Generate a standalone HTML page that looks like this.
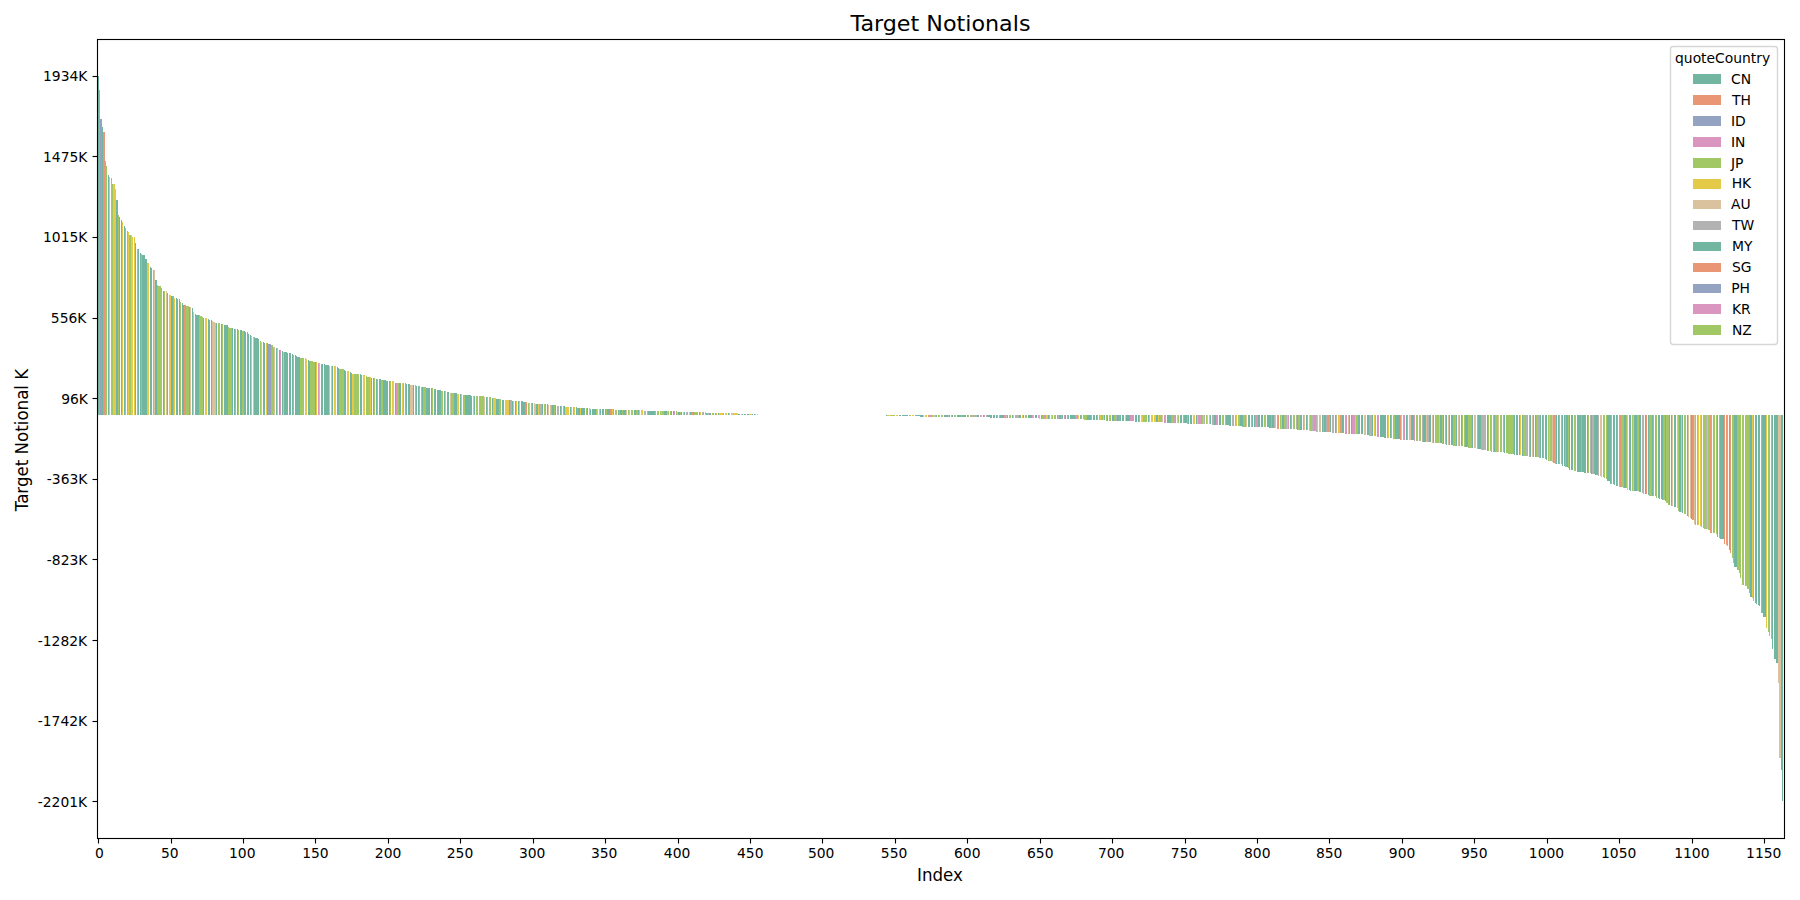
<!DOCTYPE html>
<html lang="en"><head><meta charset="utf-8"><title>Target Notionals</title>
<style>
html,body{margin:0;padding:0;background:#fff;}
body{width:1800px;height:900px;overflow:hidden;}
svg{display:block;}
text{font-family:"DejaVu Sans","Liberation Sans",sans-serif;fill:#000;}
</style></head><body>
<svg width="1800" height="900" viewBox="0 0 1800 900">
<rect width="1800" height="900" fill="#fff"/>
<g shape-rendering="crispEdges">
<path fill="#72b6a1" d="M98 76V415H99V76zM102 127V415H103V127zM108 175V415H109V175zM116 200V415H118V200zM119 217V415H120V217zM121 220V415H122V220zM124 226V415H125V226zM135 243V415H136V243zM138 249V415H139V249zM140 253V415H141V253zM142 255V415H144V255zM144 255V415H145V255zM145 259V415H147V259zM150 267V415H151V267zM151 268V415H152V268zM155 280V415H157V280zM163 291V415H164V291zM167 293V415H168V293zM171 296V415H173V296zM176 298V415H177V298zM177 299V415H178V299zM179 299V415H180V299zM182 303V415H183V303zM183 305V415H184V305zM189 307V415H190V307zM192 308V415H193V308zM196 315V415H197V315zM197 315V415H199V315zM203 318V415H204V318zM208 319V415H209V319zM209 320V415H210V320zM211 320V415H212V320zM216 323V415H217V323zM221 324V415H222V324zM224 325V415H225V325zM225 325V415H226V325zM226 325V415H228V325zM232 328V415H233V328zM234 329V415H235V329zM237 329V415H238V329zM240 330V415H241V330zM241 330V415H242V330zM244 331V415H245V331zM245 332V415H246V332zM248 334V415H249V334zM250 335V415H251V335zM254 337V415H255V337zM255 338V415H257V338zM257 338V415H258V338zM258 339V415H259V339zM263 342V415H264V342zM264 343V415H265V343zM267 343V415H268V343zM276 348V415H277V348zM279 350V415H280V350zM282 351V415H283V351zM284 352V415H286V352zM286 352V415H287V352zM287 353V415H288V353zM289 353V415H290V353zM290 353V415H291V353zM292 354V415H293V354zM295 355V415H296V355zM296 356V415H297V356zM297 357V415H299V357zM299 357V415H300V357zM308 360V415H309V360zM309 361V415H310V361zM315 362V415H316V362zM321 364V415H322V364zM322 364V415H323V364zM324 364V415H325V364zM325 365V415H326V365zM326 365V415H328V365zM328 365V415H329V365zM332 366V415H333V366zM337 367V415H338V367zM338 368V415H339V368zM344 370V415H345V370zM345 371V415H346V371zM350 372V415H351V372zM351 373V415H352V373zM360 374V415H361V374zM361 375V415H362V375zM373 378V415H374V378zM376 379V415H377V379zM379 379V415H380V379zM380 379V415H381V379zM383 380V415H384V380zM384 380V415H386V380zM386 381V415H387V381zM387 381V415H388V381zM389 381V415H390V381zM395 383V415H396V383zM399 383V415H400V383zM400 383V415H401V383zM406 384V415H407V384zM408 384V415H409V384zM409 384V415H410V384zM413 385V415H414V385zM416 386V415H417V386zM418 386V415H419V386zM422 387V415H423V387zM426 388V415H428V388zM428 388V415H429V388zM429 388V415H430V388zM431 388V415H432V388zM434 389V415H435V389zM435 389V415H436V389zM437 390V415H438V390zM438 390V415H439V390zM439 390V415H441V390zM444 391V415H445V391zM447 392V415H448V392zM448 392V415H449V392zM454 393V415H455V393zM455 393V415H457V393zM460 394V415H461V394zM465 395V415H467V395zM467 395V415H468V395zM468 395V415H470V395zM470 395V415H471V395zM471 396V415H472V396zM474 396V415H475V396zM486 397V415H487V397zM492 398V415H493V398zM496 399V415H497V399zM497 399V415H499V399zM502 400V415H503V400zM503 400V415H504V400zM509 400V415H510V400zM512 401V415H513V401zM515 401V415H516V401zM518 401V415H519V401zM521 401V415H522V401zM522 401V415H523V401zM523 402V415H525V402zM532 403V415H533V403zM536 404V415H538V404zM542 404V415H543V404zM547 404V415H548V404zM552 405V415H554V405zM555 405V415H556V405zM560 406V415H561V406zM564 406V415H565V406zM570 407V415H571V407zM576 407V415H577V407zM578 408V415H580V408zM581 408V415H583V408zM583 408V415H584V408zM584 408V415H585V408zM587 408V415H588V408zM590 409V415H591V409zM592 409V415H593V409zM593 409V415H594V409zM594 409V415H596V409zM600 409V415H601V409zM602 409V415H603V409zM603 409V415H604V409zM605 409V415H606V409zM607 409V415H609V409zM609 409V415H610V409zM618 410V415H619V410zM620 410V415H622V410zM623 410V415H625V410zM625 410V415H626V410zM634 410V415H635V410zM635 410V415H636V410zM638 410V415H639V410zM648 411V415H649V411zM649 411V415H651V411zM651 411V415H652V411zM652 411V415H654V411zM654 411V415H655V411zM664 411V415H665V411zM665 411V415H667V411zM671 411V415H672V411zM673 411V415H674V411zM678 412V415H680V412zM681 412V415H682V412zM684 412V415H685V412zM690 412V415H691V412zM693 412V415H694V412zM699 412V415H700V412zM706 413V415H707V413zM709 413V415H710V413zM710 413V415H711V413zM715 413V415H716V413zM718 413V415H719V413zM728 413V415H729V413zM738 414V415H739V414zM739 414V415H740V414zM742 414V415H743V414zM744 414V415H745V414zM745 414V415H746V414zM747 414V415H748V414zM748 414V415H749V414zM752 414V415H753V414zM754 414V415H755V414zM886 415V416H887V415zM899 415V416H900V415zM900 415V416H901V415zM902 415V416H903V415zM903 415V416H904V415zM904 415V416H906V415zM906 415V416H907V415zM907 415V416H908V415zM916 415V416H917V415zM917 415V416H919V415zM919 415V416H920V415zM920 415V417H922V415zM922 415V417H923V415zM936 415V417H937V415zM944 415V417H945V415zM945 415V417H946V415zM946 415V417H948V415zM949 415V417H950V415zM952 415V417H953V415zM957 415V417H958V415zM958 415V417H959V415zM959 415V417H961V415zM962 415V417H964V415zM964 415V417H965V415zM965 415V417H966V415zM967 415V417H968V415zM977 415V417H978V415zM978 415V417H979V415zM983 415V417H984V415zM987 415V417H988V415zM988 415V417H990V415zM990 415V418H991V415zM991 415V418H992V415zM993 415V418H994V415zM994 415V418H995V415zM996 415V418H997V415zM1000 415V418H1001V415zM1001 415V418H1003V415zM1003 415V418H1004V415zM1007 415V418H1008V415zM1012 415V418H1013V415zM1019 415V418H1020V415zM1020 415V418H1021V415zM1023 415V418H1024V415zM1028 415V418H1029V415zM1029 415V418H1030V415zM1030 415V418H1032V415zM1035 415V418H1036V415zM1036 415V418H1037V415zM1041 415V419H1042V415zM1048 415V419H1049V415zM1059 415V419H1061V415zM1062 415V419H1063V415zM1065 415V419H1066V415zM1068 415V419H1069V415zM1070 415V419H1071V415zM1071 415V419H1072V415zM1072 415V419H1074V415zM1074 415V419H1075V415zM1080 415V419H1081V415zM1087 415V420H1088V415zM1088 415V420H1090V415zM1090 415V420H1091V415zM1093 415V420H1094V415zM1094 415V420H1095V415zM1096 415V420H1097V415zM1104 415V420H1105V415zM1107 415V421H1108V415zM1112 415V421H1113V415zM1113 415V421H1114V415zM1117 415V421H1119V415zM1120 415V421H1121V415zM1122 415V421H1123V415zM1123 415V421H1124V415zM1126 415V421H1127V415zM1127 415V421H1129V415zM1129 415V421H1130V415zM1135 415V422H1136V415zM1136 415V422H1137V415zM1138 415V422H1139V415zM1148 415V422H1149V415zM1156 415V422H1158V415zM1167 415V423H1168V415zM1168 415V423H1169V415zM1169 415V423H1171V415zM1180 415V423H1181V415zM1181 415V423H1182V415zM1184 415V423H1185V415zM1185 415V423H1187V415zM1188 415V424H1189V415zM1190 415V424H1191V415zM1191 415V424H1192V415zM1196 415V424H1197V415zM1210 415V424H1211V415zM1214 415V425H1216V415zM1219 415V425H1220V415zM1220 415V425H1221V415zM1226 415V425H1227V415zM1227 415V425H1229V415zM1229 415V426H1230V415zM1230 415V426H1231V415zM1240 415V426H1242V415zM1242 415V427H1243V415zM1248 415V427H1249V415zM1249 415V427H1250V415zM1252 415V427H1253V415zM1254 415V427H1255V415zM1258 415V427H1259V415zM1259 415V427H1260V415zM1261 415V427H1262V415zM1262 415V427H1263V415zM1267 415V427H1268V415zM1268 415V427H1269V415zM1269 415V428H1271V415zM1272 415V428H1274V415zM1282 415V429H1284V415zM1290 415V429H1291V415zM1297 415V430H1298V415zM1300 415V430H1301V415zM1301 415V430H1302V415zM1306 415V430H1307V415zM1322 415V432H1323V415zM1324 415V432H1326V415zM1330 415V432H1331V415zM1335 415V433H1336V415zM1342 415V433H1343V415zM1343 415V433H1344V415zM1349 415V434H1350V415zM1351 415V434H1352V415zM1358 415V434H1359V415zM1359 415V434H1360V415zM1361 415V434H1362V415zM1362 415V434H1363V415zM1367 415V435H1368V415zM1368 415V435H1369V415zM1372 415V436H1373V415zM1380 415V437H1381V415zM1381 415V437H1382V415zM1382 415V437H1384V415zM1384 415V438H1385V415zM1385 415V438H1386V415zM1390 415V438H1391V415zM1395 415V439H1397V415zM1397 415V439H1398V415zM1398 415V439H1400V415zM1406 415V440H1407V415zM1411 415V440H1413V415zM1413 415V440H1414V415zM1423 415V442H1424V415zM1424 415V442H1426V415zM1429 415V442H1430V415zM1430 415V442H1431V415zM1433 415V443H1434V415zM1440 415V443H1442V415zM1443 415V444H1444V415zM1446 415V445H1447V415zM1449 415V445H1450V415zM1451 415V445H1452V415zM1452 415V445H1453V415zM1456 415V446H1457V415zM1461 415V446H1462V415zM1465 415V447H1466V415zM1466 415V447H1468V415zM1472 415V448H1473V415zM1478 415V449H1479V415zM1479 415V449H1481V415zM1487 415V451H1488V415zM1494 415V452H1495V415zM1504 415V453H1505V415zM1514 415V455H1515V415zM1516 415V455H1517V415zM1517 415V455H1518V415zM1519 415V455H1520V415zM1522 415V456H1523V415zM1530 415V457H1531V415zM1533 415V457H1534V415zM1535 415V457H1536V415zM1540 415V458H1541V415zM1542 415V458H1543V415zM1545 415V459H1546V415zM1546 415V460H1547V415zM1556 415V464H1557V415zM1558 415V464H1559V415zM1562 415V466H1563V415zM1564 415V466H1565V415zM1566 415V467H1568V415zM1569 415V470H1570V415zM1571 415V470H1572V415zM1572 415V470H1573V415zM1577 415V472H1578V415zM1578 415V472H1579V415zM1579 415V472H1581V415zM1582 415V472H1584V415zM1584 415V473H1585V415zM1585 415V473H1586V415zM1587 415V473H1588V415zM1591 415V474H1592V415zM1594 415V474H1595V415zM1595 415V475H1597V415zM1597 415V475H1598V415zM1607 415V481H1608V415zM1608 415V481H1610V415zM1610 415V484H1611V415zM1613 415V484H1614V415zM1614 415V485H1615V415zM1616 415V486H1617V415zM1624 415V488H1626V415zM1629 415V490H1630V415zM1630 415V491H1631V415zM1634 415V491H1636V415zM1636 415V491H1637V415zM1639 415V492H1640V415zM1640 415V492H1641V415zM1645 415V494H1646V415zM1648 415V495H1649V415zM1652 415V496H1653V415zM1658 415V498H1659V415zM1659 415V499H1660V415zM1661 415V499H1662V415zM1662 415V500H1663V415zM1665 415V501H1666V415zM1669 415V505H1670V415zM1671 415V506H1672V415zM1674 415V507H1675V415zM1675 415V507H1676V415zM1679 415V512H1681V415zM1682 415V513H1683V415zM1687 415V516H1688V415zM1691 415V519H1692V415zM1717 415V537H1718V415zM1720 415V539H1721V415zM1721 415V539H1723V415zM1723 415V539H1724V415zM1729 415V550H1730V415zM1734 415V567H1736V415zM1736 415V567H1737V415zM1750 415V597H1752V415zM1755 415V603H1756V415zM1756 415V604H1757V415zM1758 415V605H1759V415zM1759 415V606H1760V415zM1762 415V613H1763V415zM1763 415V617H1765V415zM1765 415V617H1766V415zM1772 415V649H1773V415zM1774 415V659H1775V415zM1775 415V659H1776V415zM1776 415V663H1778V415zM1781 415V770H1782V415zM1782 415V801H1783V415z"/>
<path fill="#e99675" d="M99 90V415H100V90zM103 132V415H105V132zM184 305V415H186V305zM405 383V415H406V383zM525 402V415H526V402zM526 402V415H527V402zM545 404V415H546V404zM577 408V415H578V408zM610 409V415H612V409zM613 409V415H614V409zM691 412V415H693V412zM713 413V415H714V413zM928 415V417H929V415zM1057 415V419H1058V415zM1119 415V421H1120V415zM1175 415V423H1176V415zM1245 415V427H1246V415zM1278 415V429H1279V415zM1327 415V432H1329V415zM1340 415V433H1342V415zM1377 415V437H1378V415zM1400 415V440H1401V415zM1507 415V453H1508V415zM1513 415V454H1514V415zM1543 415V458H1544V415zM1553 415V463H1555V415zM1617 415V486H1618V415zM1620 415V487H1621V415zM1646 415V494H1647V415zM1655 415V496H1656V415zM1692 415V520H1694V415zM1710 415V533H1711V415zM1724 415V544H1725V415zM1726 415V545H1727V415zM1730 415V553H1731V415zM1749 415V593H1750V415z"/>
<path fill="#95a3c3" d="M100 119V415H102V119zM195 314V415H196V314zM247 332V415H248V332zM268 344V415H270V344zM270 344V415H271V344zM371 378V415H372V378z"/>
<path fill="#db96c0" d="M105 161V415H106V161zM127 231V415H128V231zM280 350V415H281V350zM318 363V415H319V363zM367 377V415H368V377zM396 383V415H397V383zM674 411V415H675V411zM915 415V416H916V415zM929 415V417H930V415zM930 415V417H932V415zM955 415V417H956V415zM980 415V417H981V415zM984 415V417H985V415zM1004 415V418H1006V415zM1025 415V418H1026V415zM1032 415V418H1033V415zM1038 415V418H1039V415zM1043 415V419H1045V415zM1055 415V419H1056V415zM1064 415V419H1065V415zM1075 415V419H1077V415zM1091 415V420H1092V415zM1097 415V420H1098V415zM1130 415V421H1132V415zM1132 415V421H1133V415zM1139 415V422H1140V415zM1164 415V423H1165V415zM1174 415V423H1175V415zM1198 415V424H1200V415zM1200 415V424H1201V415zM1216 415V425H1217V415zM1256 415V427H1258V415zM1277 415V429H1278V415zM1288 415V429H1289V415zM1314 415V431H1316V415zM1346 415V434H1347V415zM1352 415V434H1353V415zM1353 415V434H1355V415zM1378 415V437H1379V415zM1404 415V440H1405V415zM1407 415V440H1408V415zM1414 415V441H1415V415zM1471 415V448H1472V415zM1581 415V472H1582V415zM1713 415V533H1714V415zM1739 415V573H1740V415z"/>
<path fill="#a2c865" d="M106 166V415H107V166zM111 178V415H112V178zM112 184V415H113V184zM118 215V415H119V215zM125 228V415H126V228zM129 235V415H131V235zM137 249V415H138V249zM141 254V415H142V254zM153 270V415H154V270zM157 285V415H158V285zM158 286V415H160V286zM160 286V415H161V286zM161 288V415H162V288zM164 291V415H165V291zM173 296V415H174V296zM180 302V415H181V302zM186 306V415H187V306zM187 306V415H189V306zM199 315V415H200V315zM200 316V415H202V316zM202 317V415H203V317zM218 323V415H219V323zM219 323V415H220V323zM222 324V415H223V324zM228 327V415H229V327zM229 328V415H231V328zM231 328V415H232V328zM235 329V415H236V329zM238 330V415H239V330zM242 331V415H244V331zM260 341V415H261V341zM271 345V415H273V345zM273 347V415H274V347zM293 355V415H294V355zM300 358V415H302V358zM302 358V415H303V358zM303 358V415H304V358zM310 361V415H312V361zM312 361V415H313V361zM313 362V415H315V362zM339 369V415H341V369zM341 369V415H342V369zM342 369V415H344V369zM354 374V415H355V374zM355 374V415H357V374zM357 374V415H358V374zM358 374V415H359V374zM366 376V415H367V376zM368 377V415H370V377zM374 378V415H375V378zM377 379V415H378V379zM381 380V415H383V380zM390 381V415H391V381zM397 383V415H399V383zM403 383V415H404V383zM415 385V415H416V385zM423 387V415H425V387zM425 387V415H426V387zM432 388V415H433V388zM441 391V415H442V391zM442 391V415H443V391zM451 393V415H452V393zM452 393V415H454V393zM463 395V415H464V395zM464 395V415H465V395zM476 396V415H477V396zM477 396V415H478V396zM480 396V415H481V396zM481 396V415H483V396zM483 396V415H484V396zM489 397V415H490V397zM490 397V415H491V397zM499 399V415H500V399zM500 399V415H501V399zM528 403V415H529V403zM541 404V415H542V404zM544 404V415H545V404zM551 405V415H552V405zM554 405V415H555V405zM563 406V415H564V406zM573 407V415H574V407zM586 408V415H587V408zM596 409V415H597V409zM606 409V415H607V409zM616 410V415H617V410zM619 410V415H620V410zM622 410V415H623V410zM628 410V415H629V410zM631 410V415H632V410zM632 410V415H633V410zM636 410V415H638V410zM655 411V415H656V411zM657 411V415H658V411zM658 411V415H659V411zM660 411V415H661V411zM662 411V415H664V411zM668 411V415H669V411zM670 411V415H671V411zM676 411V415H677V411zM680 412V415H681V412zM687 412V415H688V412zM694 412V415H696V412zM696 412V415H697V412zM697 412V415H698V412zM703 412V415H704V412zM712 413V415H713V413zM723 413V415H724V413zM891 415V416H893V415zM893 415V416H894V415zM894 415V416H895V415zM909 415V416H910V415zM910 415V416H911V415zM932 415V417H933V415zM938 415V417H939V415zM941 415V417H942V415zM942 415V417H943V415zM951 415V417H952V415zM954 415V417H955V415zM961 415V417H962V415zM968 415V417H969V415zM971 415V417H972V415zM972 415V417H974V415zM997 415V418H998V415zM999 415V418H1000V415zM1010 415V418H1011V415zM1026 415V418H1027V415zM1042 415V419H1043V415zM1045 415V419H1046V415zM1049 415V419H1050V415zM1052 415V419H1053V415zM1054 415V419H1055V415zM1061 415V419H1062V415zM1067 415V419H1068V415zM1077 415V419H1078V415zM1083 415V419H1084V415zM1084 415V420H1085V415zM1085 415V420H1087V415zM1099 415V420H1100V415zM1101 415V420H1103V415zM1106 415V421H1107V415zM1109 415V421H1110V415zM1110 415V421H1111V415zM1114 415V421H1116V415zM1133 415V421H1134V415zM1143 415V422H1145V415zM1146 415V422H1147V415zM1159 415V422H1161V415zM1161 415V422H1162V415zM1165 415V423H1166V415zM1171 415V423H1172V415zM1172 415V423H1174V415zM1178 415V423H1179V415zM1183 415V423H1184V415zM1201 415V424H1203V415zM1206 415V424H1207V415zM1213 415V425H1214V415zM1217 415V425H1218V415zM1222 415V425H1223V415zM1223 415V425H1224V415zM1233 415V426H1234V415zM1235 415V426H1236V415zM1238 415V426H1239V415zM1239 415V426H1240V415zM1243 415V427H1245V415zM1255 415V427H1256V415zM1264 415V427H1265V415zM1265 415V427H1266V415zM1271 415V428H1272V415zM1280 415V429H1281V415zM1284 415V429H1285V415zM1291 415V429H1292V415zM1293 415V429H1294V415zM1294 415V429H1295V415zM1298 415V430H1300V415zM1303 415V430H1304V415zM1310 415V431H1311V415zM1313 415V431H1314V415zM1323 415V432H1324V415zM1329 415V432H1330V415zM1333 415V433H1334V415zM1345 415V434H1346V415zM1356 415V434H1358V415zM1371 415V436H1372V415zM1375 415V436H1376V415zM1387 415V438H1388V415zM1391 415V438H1392V415zM1393 415V439H1394V415zM1394 415V439H1395V415zM1403 415V440H1404V415zM1416 415V441H1417V415zM1417 415V441H1418V415zM1419 415V441H1420V415zM1420 415V441H1421V415zM1435 415V443H1436V415zM1436 415V443H1437V415zM1437 415V443H1439V415zM1442 415V444H1443V415zM1453 415V446H1455V415zM1462 415V446H1463V415zM1464 415V447H1465V415zM1468 415V448H1469V415zM1469 415V448H1471V415zM1488 415V451H1489V415zM1490 415V451H1491V415zM1491 415V452H1492V415zM1495 415V452H1497V415zM1497 415V452H1498V415zM1500 415V452H1501V415zM1501 415V452H1502V415zM1503 415V452H1504V415zM1506 415V453H1507V415zM1508 415V454H1510V415zM1510 415V454H1511V415zM1511 415V454H1513V415zM1523 415V456H1524V415zM1524 415V456H1526V415zM1527 415V456H1528V415zM1529 415V457H1530V415zM1536 415V457H1537V415zM1539 415V458H1540V415zM1548 415V461H1549V415zM1550 415V461H1552V415zM1555 415V464H1556V415zM1559 415V464H1560V415zM1565 415V467H1566V415zM1568 415V468H1569V415zM1574 415V471H1575V415zM1575 415V471H1576V415zM1588 415V473H1589V415zM1603 415V477H1604V415zM1604 415V478H1605V415zM1606 415V479H1607V415zM1611 415V484H1612V415zM1619 415V487H1620V415zM1621 415V487H1623V415zM1623 415V488H1624V415zM1626 415V488H1627V415zM1632 415V491H1633V415zM1637 415V491H1639V415zM1649 415V496H1650V415zM1650 415V496H1652V415zM1653 415V496H1654V415zM1656 415V498H1657V415zM1663 415V500H1665V415zM1666 415V503H1668V415zM1668 415V505H1669V415zM1678 415V511H1679V415zM1684 415V514H1685V415zM1685 415V514H1686V415zM1695 415V525H1696V415zM1697 415V525H1698V415zM1703 415V528H1704V415zM1704 415V529H1705V415zM1708 415V530H1710V415zM1711 415V533H1712V415zM1714 415V533H1715V415zM1716 415V534H1717V415zM1719 415V538H1720V415zM1727 415V546H1728V415zM1732 415V558H1733V415zM1733 415V563H1734V415zM1737 415V570H1739V415zM1740 415V578H1741V415zM1742 415V585H1743V415zM1743 415V585H1744V415zM1745 415V586H1746V415zM1746 415V586H1747V415zM1747 415V589H1749V415zM1753 415V601H1754V415zM1761 415V613H1762V415zM1768 415V632H1769V415zM1769 415V636H1770V415zM1771 415V639H1772V415z"/>
<path fill="#e5c949" d="M109 177V415H110V177zM113 184V415H115V184zM115 189V415H116V189zM122 222V415H123V222zM128 232V415H129V232zM132 237V415H133V237zM134 237V415H135V237zM147 263V415H148V263zM148 263V415H149V263zM169 295V415H170V295zM170 295V415H171V295zM174 298V415H175V298zM193 312V415H194V312zM205 318V415H206V318zM206 318V415H207V318zM215 323V415H216V323zM251 336V415H252V336zM266 343V415H267V343zM277 348V415H278V348zM283 352V415H284V352zM305 358V415H306V358zM306 359V415H307V359zM316 362V415H317V362zM319 363V415H320V363zM329 366V415H330V366zM331 366V415H332V366zM334 366V415H335V366zM335 366V415H336V366zM347 371V415H348V371zM348 371V415H349V371zM352 374V415H354V374zM363 375V415H364V375zM364 375V415H365V375zM370 377V415H371V377zM392 381V415H393V381zM402 383V415H403V383zM445 391V415H446V391zM457 394V415H458V394zM458 394V415H459V394zM461 394V415H462V394zM473 396V415H474V396zM493 398V415H494V398zM494 398V415H496V398zM505 400V415H506V400zM506 400V415H507V400zM507 400V415H509V400zM513 401V415H514V401zM516 401V415H517V401zM519 401V415H520V401zM529 403V415H530V403zM538 404V415H539V404zM565 407V415H567V407zM567 407V415H568V407zM568 407V415H569V407zM571 407V415H572V407zM574 407V415H575V407zM580 408V415H581V408zM589 408V415H590V408zM597 409V415H598V409zM599 409V415H600V409zM612 409V415H613V409zM629 410V415H630V410zM639 410V415H640V410zM641 410V415H642V410zM642 410V415H643V410zM661 411V415H662V411zM667 411V415H668V411zM677 412V415H678V412zM683 412V415H684V412zM700 412V415H701V412zM705 412V415H706V412zM716 413V415H717V413zM720 413V415H722V413zM722 413V415H723V413zM725 413V415H726V413zM726 413V415H727V413zM729 413V415H730V413zM733 413V415H735V413zM735 413V415H736V413zM736 413V415H738V413zM741 414V415H742V414zM749 414V415H751V414zM751 414V415H752V414zM755 414V415H756V414zM757 414V415H758V414zM887 415V416H888V415zM888 415V416H890V415zM890 415V416H891V415zM896 415V416H897V415zM897 415V416H898V415zM912 415V416H913V415zM913 415V416H914V415zM925 415V417H926V415zM926 415V417H927V415zM981 415V417H982V415zM1022 415V418H1023V415zM1039 415V419H1040V415zM1046 415V419H1048V415zM1051 415V419H1052V415zM1078 415V419H1079V415zM1100 415V420H1101V415zM1142 415V422H1143V415zM1149 415V422H1150V415zM1151 415V422H1152V415zM1152 415V422H1153V415zM1154 415V422H1155V415zM1155 415V422H1156V415zM1158 415V422H1159V415zM1193 415V424H1194V415zM1194 415V424H1195V415zM1203 415V424H1204V415zM1236 415V426H1237V415zM1281 415V429H1282V415zM1287 415V429H1288V415zM1319 415V432H1320V415zM1338 415V433H1339V415zM1365 415V435H1366V415zM1374 415V436H1375V415zM1388 415V438H1389V415zM1520 415V455H1521V415zM1698 415V525H1699V415zM1700 415V526H1701V415zM1752 415V598H1753V415zM1766 415V628H1767V415z"/>
<path fill="#dbc29e" d="M131 235V415H132V235zM154 270V415H155V270zM166 291V415H167V291zM190 307V415H191V307zM212 321V415H213V321zM213 322V415H215V322zM253 337V415H254V337zM261 342V415H262V342zM274 347V415H275V347zM393 381V415H394V381zM410 385V415H412V385zM412 385V415H413V385zM450 393V415H451V393zM484 397V415H485V397zM534 403V415H535V403zM535 404V415H536V404zM548 405V415H549V405zM550 405V415H551V405zM626 410V415H627V410zM689 412V415H690V412zM719 413V415H720V413zM731 413V415H732V413zM732 413V415H733V413zM923 415V417H924V415zM933 415V417H935V415zM1006 415V418H1007V415zM1013 415V418H1014V415zM1033 415V418H1034V415zM1103 415V420H1104V415zM1125 415V421H1126V415zM1141 415V422H1142V415zM1162 415V422H1163V415zM1177 415V423H1178V415zM1197 415V424H1198V415zM1207 415V424H1208V415zM1209 415V424H1210V415zM1246 415V427H1247V415zM1275 415V428H1276V415zM1304 415V430H1305V415zM1309 415V431H1310V415zM1317 415V432H1318V415zM1320 415V432H1321V415zM1339 415V433H1340V415zM1348 415V434H1349V415zM1355 415V434H1356V415zM1364 415V435H1365V415zM1401 415V440H1402V415zM1409 415V440H1410V415zM1410 415V440H1411V415zM1426 415V442H1427V415zM1432 415V443H1433V415zM1439 415V443H1440V415zM1448 415V445H1449V415zM1458 415V446H1459V415zM1474 415V448H1475V415zM1475 415V448H1476V415zM1498 415V452H1499V415zM1532 415V457H1533V415zM1549 415V461H1550V415zM1552 415V462H1553V415zM1600 415V476H1601V415zM1601 415V477H1602V415zM1627 415V490H1628V415zM1633 415V491H1634V415zM1672 415V506H1673V415zM1677 415V508H1678V415zM1681 415V512H1682V415zM1688 415V517H1689V415zM1690 415V518H1691V415zM1694 415V524H1695V415zM1707 415V529H1708V415zM1778 415V683H1779V415zM1779 415V758H1781V415z"/>
<path fill="#b3b3b3" d="M419 386V415H420V386zM421 387V415H422V387zM479 396V415H480V396zM487 397V415H488V397zM510 400V415H512V400zM531 403V415H532V403zM539 404V415H541V404zM557 406V415H558V406zM558 406V415H559V406zM561 406V415H562V406zM615 410V415H616V410zM644 411V415H645V411zM645 411V415H646V411zM647 411V415H648V411zM686 412V415H687V412zM702 412V415H703V412zM707 413V415H709V413zM935 415V417H936V415zM939 415V417H940V415zM948 415V417H949V415zM970 415V417H971V415zM974 415V417H975V415zM975 415V417H977V415zM986 415V417H987V415zM1009 415V418H1010V415zM1015 415V418H1016V415zM1016 415V418H1017V415zM1017 415V418H1019V415zM1058 415V419H1059V415zM1081 415V419H1082V415zM1116 415V421H1117V415zM1145 415V422H1146V415zM1187 415V424H1188V415zM1204 415V424H1205V415zM1212 415V425H1213V415zM1225 415V425H1226V415zM1232 415V426H1233V415zM1251 415V427H1252V415zM1274 415V428H1275V415zM1285 415V429H1287V415zM1296 415V429H1297V415zM1307 415V430H1308V415zM1311 415V431H1313V415zM1316 415V432H1317V415zM1326 415V432H1327V415zM1332 415V433H1333V415zM1336 415V433H1337V415zM1369 415V436H1371V415zM1422 415V442H1423V415zM1427 415V442H1429V415zM1445 415V444H1446V415zM1455 415V446H1456V415zM1459 415V446H1460V415zM1477 415V449H1478V415zM1481 415V450H1482V415zM1482 415V450H1484V415zM1484 415V450H1485V415zM1485 415V450H1486V415zM1493 415V452H1494V415zM1526 415V456H1527V415zM1537 415V457H1539V415zM1561 415V464H1562V415zM1590 415V473H1591V415zM1592 415V474H1594V415zM1598 415V476H1599V415zM1642 415V493H1643V415zM1643 415V494H1644V415zM1701 415V527H1702V415zM1705 415V529H1707V415z"/>
</g>
<g shape-rendering="crispEdges">
<rect x="96" y="39" width="3" height="800" fill="#000" fill-opacity="0.055"/><rect x="97" y="39" width="1" height="800" fill="#000"/>
<rect x="1783" y="39" width="3" height="800" fill="#000" fill-opacity="0.055"/><rect x="1784" y="39" width="1" height="800" fill="#000"/>
<rect x="97" y="38" width="1688" height="3" fill="#000" fill-opacity="0.055"/><rect x="97" y="39" width="1688" height="1" fill="#000"/>
<rect x="97" y="837" width="1688" height="3" fill="#000" fill-opacity="0.055"/><rect x="97" y="838" width="1688" height="1" fill="#000"/>
<rect x="97" y="839" width="3" height="4" fill="#000" fill-opacity="0.055"/><rect x="98" y="839" width="1" height="4" fill="#000"/><rect x="98" y="843" width="1" height="1" fill="#000" fill-opacity="0.5"/>
<rect x="170" y="839" width="3" height="4" fill="#000" fill-opacity="0.055"/><rect x="171" y="839" width="1" height="4" fill="#000"/><rect x="171" y="843" width="1" height="1" fill="#000" fill-opacity="0.5"/>
<rect x="242" y="839" width="3" height="4" fill="#000" fill-opacity="0.055"/><rect x="243" y="839" width="1" height="4" fill="#000"/><rect x="243" y="843" width="1" height="1" fill="#000" fill-opacity="0.5"/>
<rect x="314" y="839" width="3" height="4" fill="#000" fill-opacity="0.055"/><rect x="315" y="839" width="1" height="4" fill="#000"/><rect x="315" y="843" width="1" height="1" fill="#000" fill-opacity="0.5"/>
<rect x="387" y="839" width="3" height="4" fill="#000" fill-opacity="0.055"/><rect x="388" y="839" width="1" height="4" fill="#000"/><rect x="388" y="843" width="1" height="1" fill="#000" fill-opacity="0.5"/>
<rect x="459" y="839" width="3" height="4" fill="#000" fill-opacity="0.055"/><rect x="460" y="839" width="1" height="4" fill="#000"/><rect x="460" y="843" width="1" height="1" fill="#000" fill-opacity="0.5"/>
<rect x="532" y="839" width="3" height="4" fill="#000" fill-opacity="0.055"/><rect x="533" y="839" width="1" height="4" fill="#000"/><rect x="533" y="843" width="1" height="1" fill="#000" fill-opacity="0.5"/>
<rect x="604" y="839" width="3" height="4" fill="#000" fill-opacity="0.055"/><rect x="605" y="839" width="1" height="4" fill="#000"/><rect x="605" y="843" width="1" height="1" fill="#000" fill-opacity="0.5"/>
<rect x="677" y="839" width="3" height="4" fill="#000" fill-opacity="0.055"/><rect x="678" y="839" width="1" height="4" fill="#000"/><rect x="678" y="843" width="1" height="1" fill="#000" fill-opacity="0.5"/>
<rect x="749" y="839" width="3" height="4" fill="#000" fill-opacity="0.055"/><rect x="750" y="839" width="1" height="4" fill="#000"/><rect x="750" y="843" width="1" height="1" fill="#000" fill-opacity="0.5"/>
<rect x="821" y="839" width="3" height="4" fill="#000" fill-opacity="0.055"/><rect x="822" y="839" width="1" height="4" fill="#000"/><rect x="822" y="843" width="1" height="1" fill="#000" fill-opacity="0.5"/>
<rect x="894" y="839" width="3" height="4" fill="#000" fill-opacity="0.055"/><rect x="895" y="839" width="1" height="4" fill="#000"/><rect x="895" y="843" width="1" height="1" fill="#000" fill-opacity="0.5"/>
<rect x="966" y="839" width="3" height="4" fill="#000" fill-opacity="0.055"/><rect x="967" y="839" width="1" height="4" fill="#000"/><rect x="967" y="843" width="1" height="1" fill="#000" fill-opacity="0.5"/>
<rect x="1039" y="839" width="3" height="4" fill="#000" fill-opacity="0.055"/><rect x="1040" y="839" width="1" height="4" fill="#000"/><rect x="1040" y="843" width="1" height="1" fill="#000" fill-opacity="0.5"/>
<rect x="1111" y="839" width="3" height="4" fill="#000" fill-opacity="0.055"/><rect x="1112" y="839" width="1" height="4" fill="#000"/><rect x="1112" y="843" width="1" height="1" fill="#000" fill-opacity="0.5"/>
<rect x="1184" y="839" width="3" height="4" fill="#000" fill-opacity="0.055"/><rect x="1185" y="839" width="1" height="4" fill="#000"/><rect x="1185" y="843" width="1" height="1" fill="#000" fill-opacity="0.5"/>
<rect x="1256" y="839" width="3" height="4" fill="#000" fill-opacity="0.055"/><rect x="1257" y="839" width="1" height="4" fill="#000"/><rect x="1257" y="843" width="1" height="1" fill="#000" fill-opacity="0.5"/>
<rect x="1328" y="839" width="3" height="4" fill="#000" fill-opacity="0.055"/><rect x="1329" y="839" width="1" height="4" fill="#000"/><rect x="1329" y="843" width="1" height="1" fill="#000" fill-opacity="0.5"/>
<rect x="1401" y="839" width="3" height="4" fill="#000" fill-opacity="0.055"/><rect x="1402" y="839" width="1" height="4" fill="#000"/><rect x="1402" y="843" width="1" height="1" fill="#000" fill-opacity="0.5"/>
<rect x="1473" y="839" width="3" height="4" fill="#000" fill-opacity="0.055"/><rect x="1474" y="839" width="1" height="4" fill="#000"/><rect x="1474" y="843" width="1" height="1" fill="#000" fill-opacity="0.5"/>
<rect x="1546" y="839" width="3" height="4" fill="#000" fill-opacity="0.055"/><rect x="1547" y="839" width="1" height="4" fill="#000"/><rect x="1547" y="843" width="1" height="1" fill="#000" fill-opacity="0.5"/>
<rect x="1618" y="839" width="3" height="4" fill="#000" fill-opacity="0.055"/><rect x="1619" y="839" width="1" height="4" fill="#000"/><rect x="1619" y="843" width="1" height="1" fill="#000" fill-opacity="0.5"/>
<rect x="1691" y="839" width="3" height="4" fill="#000" fill-opacity="0.055"/><rect x="1692" y="839" width="1" height="4" fill="#000"/><rect x="1692" y="843" width="1" height="1" fill="#000" fill-opacity="0.5"/>
<rect x="1763" y="839" width="3" height="4" fill="#000" fill-opacity="0.055"/><rect x="1764" y="839" width="1" height="4" fill="#000"/><rect x="1764" y="843" width="1" height="1" fill="#000" fill-opacity="0.5"/>
<rect x="93" y="75" width="4" height="3" fill="#000" fill-opacity="0.055"/><rect x="93" y="76" width="4" height="1" fill="#000"/><rect x="92" y="76" width="1" height="1" fill="#000" fill-opacity="0.5"/>
<rect x="93" y="155" width="4" height="3" fill="#000" fill-opacity="0.055"/><rect x="93" y="156" width="4" height="1" fill="#000"/><rect x="92" y="156" width="1" height="1" fill="#000" fill-opacity="0.5"/>
<rect x="93" y="236" width="4" height="3" fill="#000" fill-opacity="0.055"/><rect x="93" y="237" width="4" height="1" fill="#000"/><rect x="92" y="237" width="1" height="1" fill="#000" fill-opacity="0.5"/>
<rect x="93" y="317" width="4" height="3" fill="#000" fill-opacity="0.055"/><rect x="93" y="318" width="4" height="1" fill="#000"/><rect x="92" y="318" width="1" height="1" fill="#000" fill-opacity="0.5"/>
<rect x="93" y="397" width="4" height="3" fill="#000" fill-opacity="0.055"/><rect x="93" y="398" width="4" height="1" fill="#000"/><rect x="92" y="398" width="1" height="1" fill="#000" fill-opacity="0.5"/>
<rect x="93" y="478" width="4" height="3" fill="#000" fill-opacity="0.055"/><rect x="93" y="479" width="4" height="1" fill="#000"/><rect x="92" y="479" width="1" height="1" fill="#000" fill-opacity="0.5"/>
<rect x="93" y="558" width="4" height="3" fill="#000" fill-opacity="0.055"/><rect x="93" y="559" width="4" height="1" fill="#000"/><rect x="92" y="559" width="1" height="1" fill="#000" fill-opacity="0.5"/>
<rect x="93" y="639" width="4" height="3" fill="#000" fill-opacity="0.055"/><rect x="93" y="640" width="4" height="1" fill="#000"/><rect x="92" y="640" width="1" height="1" fill="#000" fill-opacity="0.5"/>
<rect x="93" y="720" width="4" height="3" fill="#000" fill-opacity="0.055"/><rect x="93" y="721" width="4" height="1" fill="#000"/><rect x="92" y="721" width="1" height="1" fill="#000" fill-opacity="0.5"/>
<rect x="93" y="800" width="4" height="3" fill="#000" fill-opacity="0.055"/><rect x="93" y="801" width="4" height="1" fill="#000"/><rect x="92" y="801" width="1" height="1" fill="#000" fill-opacity="0.5"/>
</g>
<g shape-rendering="crispEdges">
<rect x="1670.5" y="46.5" width="107" height="298" rx="2.78" ry="2.78" fill="#fff" fill-opacity="0.8" stroke="#ccc" stroke-opacity="0.8" stroke-width="1.389" shape-rendering="geometricPrecision"/>
<rect x="1693" y="74" width="28" height="10" fill="#72b6a1"/>
<rect x="1693" y="95" width="28" height="10" fill="#e99675"/>
<rect x="1693" y="116" width="28" height="10" fill="#95a3c3"/>
<rect x="1693" y="137" width="28" height="10" fill="#db96c0"/>
<rect x="1693" y="158" width="28" height="10" fill="#a2c865"/>
<rect x="1693" y="179" width="28" height="10" fill="#e5c949"/>
<rect x="1693" y="200" width="28" height="9" fill="#dbc29e"/>
<rect x="1693" y="221" width="28" height="9" fill="#b3b3b3"/>
<rect x="1693" y="242" width="28" height="9" fill="#72b6a1"/>
<rect x="1693" y="263" width="28" height="9" fill="#e99675"/>
<rect x="1693" y="284" width="28" height="9" fill="#95a3c3"/>
<rect x="1693" y="304" width="28" height="10" fill="#db96c0"/>
<rect x="1693" y="325" width="28" height="10" fill="#a2c865"/>
</g>
<g>
<text transform="translate(99.38,858.20)" text-anchor="middle" font-size="13.889">0</text>
<text transform="translate(169.81,858.20)" text-anchor="middle" font-size="13.889">50</text>
<text transform="translate(242.24,858.20)" text-anchor="middle" font-size="13.889">100</text>
<text transform="translate(315.41,858.20)" text-anchor="middle" font-size="13.889">150</text>
<text transform="translate(388.09,858.20)" text-anchor="middle" font-size="13.889">200</text>
<text transform="translate(460.02,858.20)" text-anchor="middle" font-size="13.889">250</text>
<text transform="translate(532.20,858.20)" text-anchor="middle" font-size="13.889">300</text>
<text transform="translate(604.13,858.20)" text-anchor="middle" font-size="13.889">350</text>
<text transform="translate(677.06,858.20)" text-anchor="middle" font-size="13.889">400</text>
<text transform="translate(750.24,858.20)" text-anchor="middle" font-size="13.889">450</text>
<text transform="translate(821.17,858.20)" text-anchor="middle" font-size="13.889">500</text>
<text transform="translate(894.10,858.20)" text-anchor="middle" font-size="13.889">550</text>
<text transform="translate(967.28,858.20)" text-anchor="middle" font-size="13.889">600</text>
<text transform="translate(1040.21,858.20)" text-anchor="middle" font-size="13.889">650</text>
<text transform="translate(1111.14,858.20)" text-anchor="middle" font-size="13.889">700</text>
<text transform="translate(1184.06,858.20)" text-anchor="middle" font-size="13.889">750</text>
<text transform="translate(1257.24,858.20)" text-anchor="middle" font-size="13.889">800</text>
<text transform="translate(1329.17,858.20)" text-anchor="middle" font-size="13.889">850</text>
<text transform="translate(1402.10,858.20)" text-anchor="middle" font-size="13.889">900</text>
<text transform="translate(1474.28,858.20)" text-anchor="middle" font-size="13.889">950</text>
<text transform="translate(1546.46,858.20)" text-anchor="middle" font-size="13.889">1000</text>
<text transform="translate(1618.64,858.20)" text-anchor="middle" font-size="13.889">1050</text>
<text transform="translate(1691.82,858.20)" text-anchor="middle" font-size="13.889">1100</text>
<text transform="translate(1763.75,858.20)" text-anchor="middle" font-size="13.889">1150</text>
<text transform="translate(87.43,80.72)" text-anchor="end" font-size="13.889">1934K</text>
<text transform="translate(87.43,162.37)" text-anchor="end" font-size="13.889">1475K</text>
<text transform="translate(87.43,242.01)" text-anchor="end" font-size="13.889">1015K</text>
<text transform="translate(86.43,322.66)" text-anchor="end" font-size="13.889">556K</text>
<text transform="translate(87.93,404.31)" text-anchor="end" font-size="13.889">96K</text>
<text transform="translate(87.43,483.95)" text-anchor="end" font-size="13.889">-363K</text>
<text transform="translate(87.43,564.60)" text-anchor="end" font-size="13.889">-823K</text>
<text transform="translate(87.18,646.24)" text-anchor="end" font-size="13.889">-1282K</text>
<text transform="translate(87.18,725.89)" text-anchor="end" font-size="13.889">-1742K</text>
<text transform="translate(87.18,806.53)" text-anchor="end" font-size="13.889">-2201K</text>
<text transform="translate(940.48,31.20) scale(1.01009,1)" text-anchor="middle" font-size="22">Target Notionals</text>
<text transform="translate(939.98,881.20) scale(0.98041,1)" text-anchor="middle" font-size="17">Index</text>
<text transform="translate(28.20,440.03) rotate(-90) scale(0.98041,1)" text-anchor="middle" font-size="17">Target Notional K</text>
<text transform="translate(1722.62,62.60)" text-anchor="middle" font-size="13.889">quoteCountry</text>
<text transform="translate(1730.94,84.28)" text-anchor="start" font-size="13.889">CN</text>
<text transform="translate(1731.94,105.22)" text-anchor="start" font-size="13.889">TH</text>
<text transform="translate(1730.94,126.17)" text-anchor="start" font-size="13.889">ID</text>
<text transform="translate(1730.94,147.11)" text-anchor="start" font-size="13.889">IN</text>
<text transform="translate(1730.94,168.06)" text-anchor="start" font-size="13.889">JP</text>
<text transform="translate(1731.69,188.00)" text-anchor="start" font-size="13.889">HK</text>
<text transform="translate(1730.94,208.95)" text-anchor="start" font-size="13.889">AU</text>
<text transform="translate(1731.94,229.89)" text-anchor="start" font-size="13.889">TW</text>
<text transform="translate(1731.94,250.84)" text-anchor="start" font-size="13.889">MY</text>
<text transform="translate(1731.94,271.78)" text-anchor="start" font-size="13.889">SG</text>
<text transform="translate(1731.19,292.72)" text-anchor="start" font-size="13.889">PH</text>
<text transform="translate(1731.94,313.67)" text-anchor="start" font-size="13.889">KR</text>
<text transform="translate(1731.94,334.61)" text-anchor="start" font-size="13.889">NZ</text>
</g>
</svg>
</body></html>
